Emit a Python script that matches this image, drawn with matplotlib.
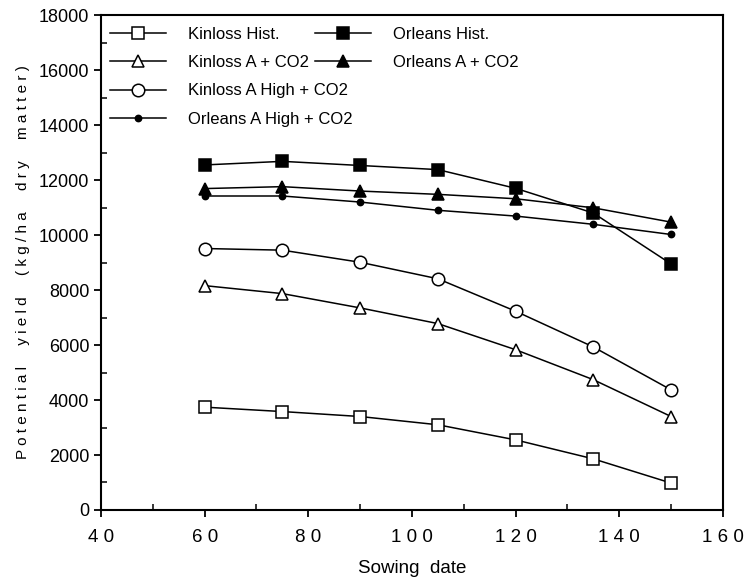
import matplotlib
matplotlib.use('Agg')
import matplotlib.pyplot as plt
from matplotlib.lines import Line2D
from matplotlib.ticker import MultipleLocator

plt.rcParams['font.family'] = ['Liberation Sans Narrow', 'Liberation Sans', 'DejaVu Sans']

# sowing dates (x) and potential yields (kg/ha dry matter)
sowing = [60, 75, 90, 105, 120, 135, 150]
kinloss_hist = [3740, 3580, 3400, 3100, 2550, 1860, 980]
orleans_hist = [12550, 12680, 12530, 12380, 11700, 10800, 8950]
kinloss_a_co2 = [8160, 7870, 7350, 6780, 5830, 4740, 3400]
orleans_a_co2 = [11690, 11760, 11600, 11480, 11320, 10990, 10470]
kinloss_high_co2 = [9510, 9450, 9010, 8410, 7230, 5930, 4370]
orleans_high_co2 = [11420, 11420, 11200, 10900, 10690, 10390, 10020]

x_ticks = [40, 60, 80, 100, 120, 140, 160]
x_labels = ['4 0', '6 0', '8 0', '1 0 0', '1 2 0', '1 4 0', '1 6 0']
y_ticks = list(range(0, 18001, 2000))

fig = plt.figure(figsize=(7.46, 5.8), dpi=100)
ax = fig.add_axes([0.1354, 0.1207, 0.8336, 0.8533])

kw = dict(color='black', linewidth=1.1, markeredgewidth=1.1)
styles = {
    'kh': dict(marker='s', markersize=8, markerfacecolor='white'),
    'oh': dict(marker='s', markersize=8, markerfacecolor='black'),
    'ka': dict(marker='^', markersize=9, markerfacecolor='white'),
    'oa': dict(marker='^', markersize=9, markerfacecolor='black'),
    'kx': dict(marker='o', markersize=9, markerfacecolor='white'),
    'ox': dict(marker='o', markersize=4.5, markerfacecolor='black'),
}
ax.plot(sowing, kinloss_hist, **styles['kh'], **kw)
ax.plot(sowing, orleans_hist, **styles['oh'], **kw)
ax.plot(sowing, kinloss_a_co2, **styles['ka'], **kw)
ax.plot(sowing, orleans_a_co2, **styles['oa'], **kw)
ax.plot(sowing, kinloss_high_co2, **styles['kx'], **kw)
ax.plot(sowing, orleans_high_co2, **styles['ox'], **kw)

ax.set_xlim(40, 160)
ax.set_ylim(0, 18000)
ax.set_xticks(x_ticks)
ax.set_xticklabels(x_labels, fontsize=13.5)
ax.set_yticks(y_ticks)
ax.set_yticklabels([str(v) for v in y_ticks], fontsize=13)
ax.xaxis.set_minor_locator(MultipleLocator(10))
ax.yaxis.set_minor_locator(MultipleLocator(1000))
ax.tick_params(which='major', direction='out', length=5, width=1.3)
ax.tick_params(axis='x', which='major', pad=9)
ax.tick_params(which='minor', direction='in', length=4, width=1.1)
for s in ax.spines.values():
    s.set_linewidth(1.5)

ax.set_xlabel('Sowing  date', fontsize=13.5, labelpad=10)
ax.set_ylabel('P o t e n t i a l     y i e l d     ( k g / h a     d r y     m a t t e r )',
              fontsize=11, labelpad=6)

leg_kw = dict(loc='upper left', frameon=False, fontsize=12, handlelength=3.4,
              handletextpad=1.3, labelspacing=0.8, borderaxespad=0.0, borderpad=0.7)


def handle(key):
    return Line2D([], [], **styles[key], **kw)


leg1 = ax.legend([handle('kh'), handle('ka'), handle('kx'), handle('ox')],
                 ['Kinloss Hist.', 'Kinloss A + CO2', 'Kinloss A High + CO2',
                  'Orleans A High + CO2'],
                 bbox_to_anchor=(-0.005, 1.0), **leg_kw)
ax.add_artist(leg1)
ax.legend([handle('oh'), handle('oa')], ['Orleans Hist.', 'Orleans A + CO2'],
          bbox_to_anchor=(0.325, 1.0), **leg_kw)

fig.savefig('out.png', dpi=100)
